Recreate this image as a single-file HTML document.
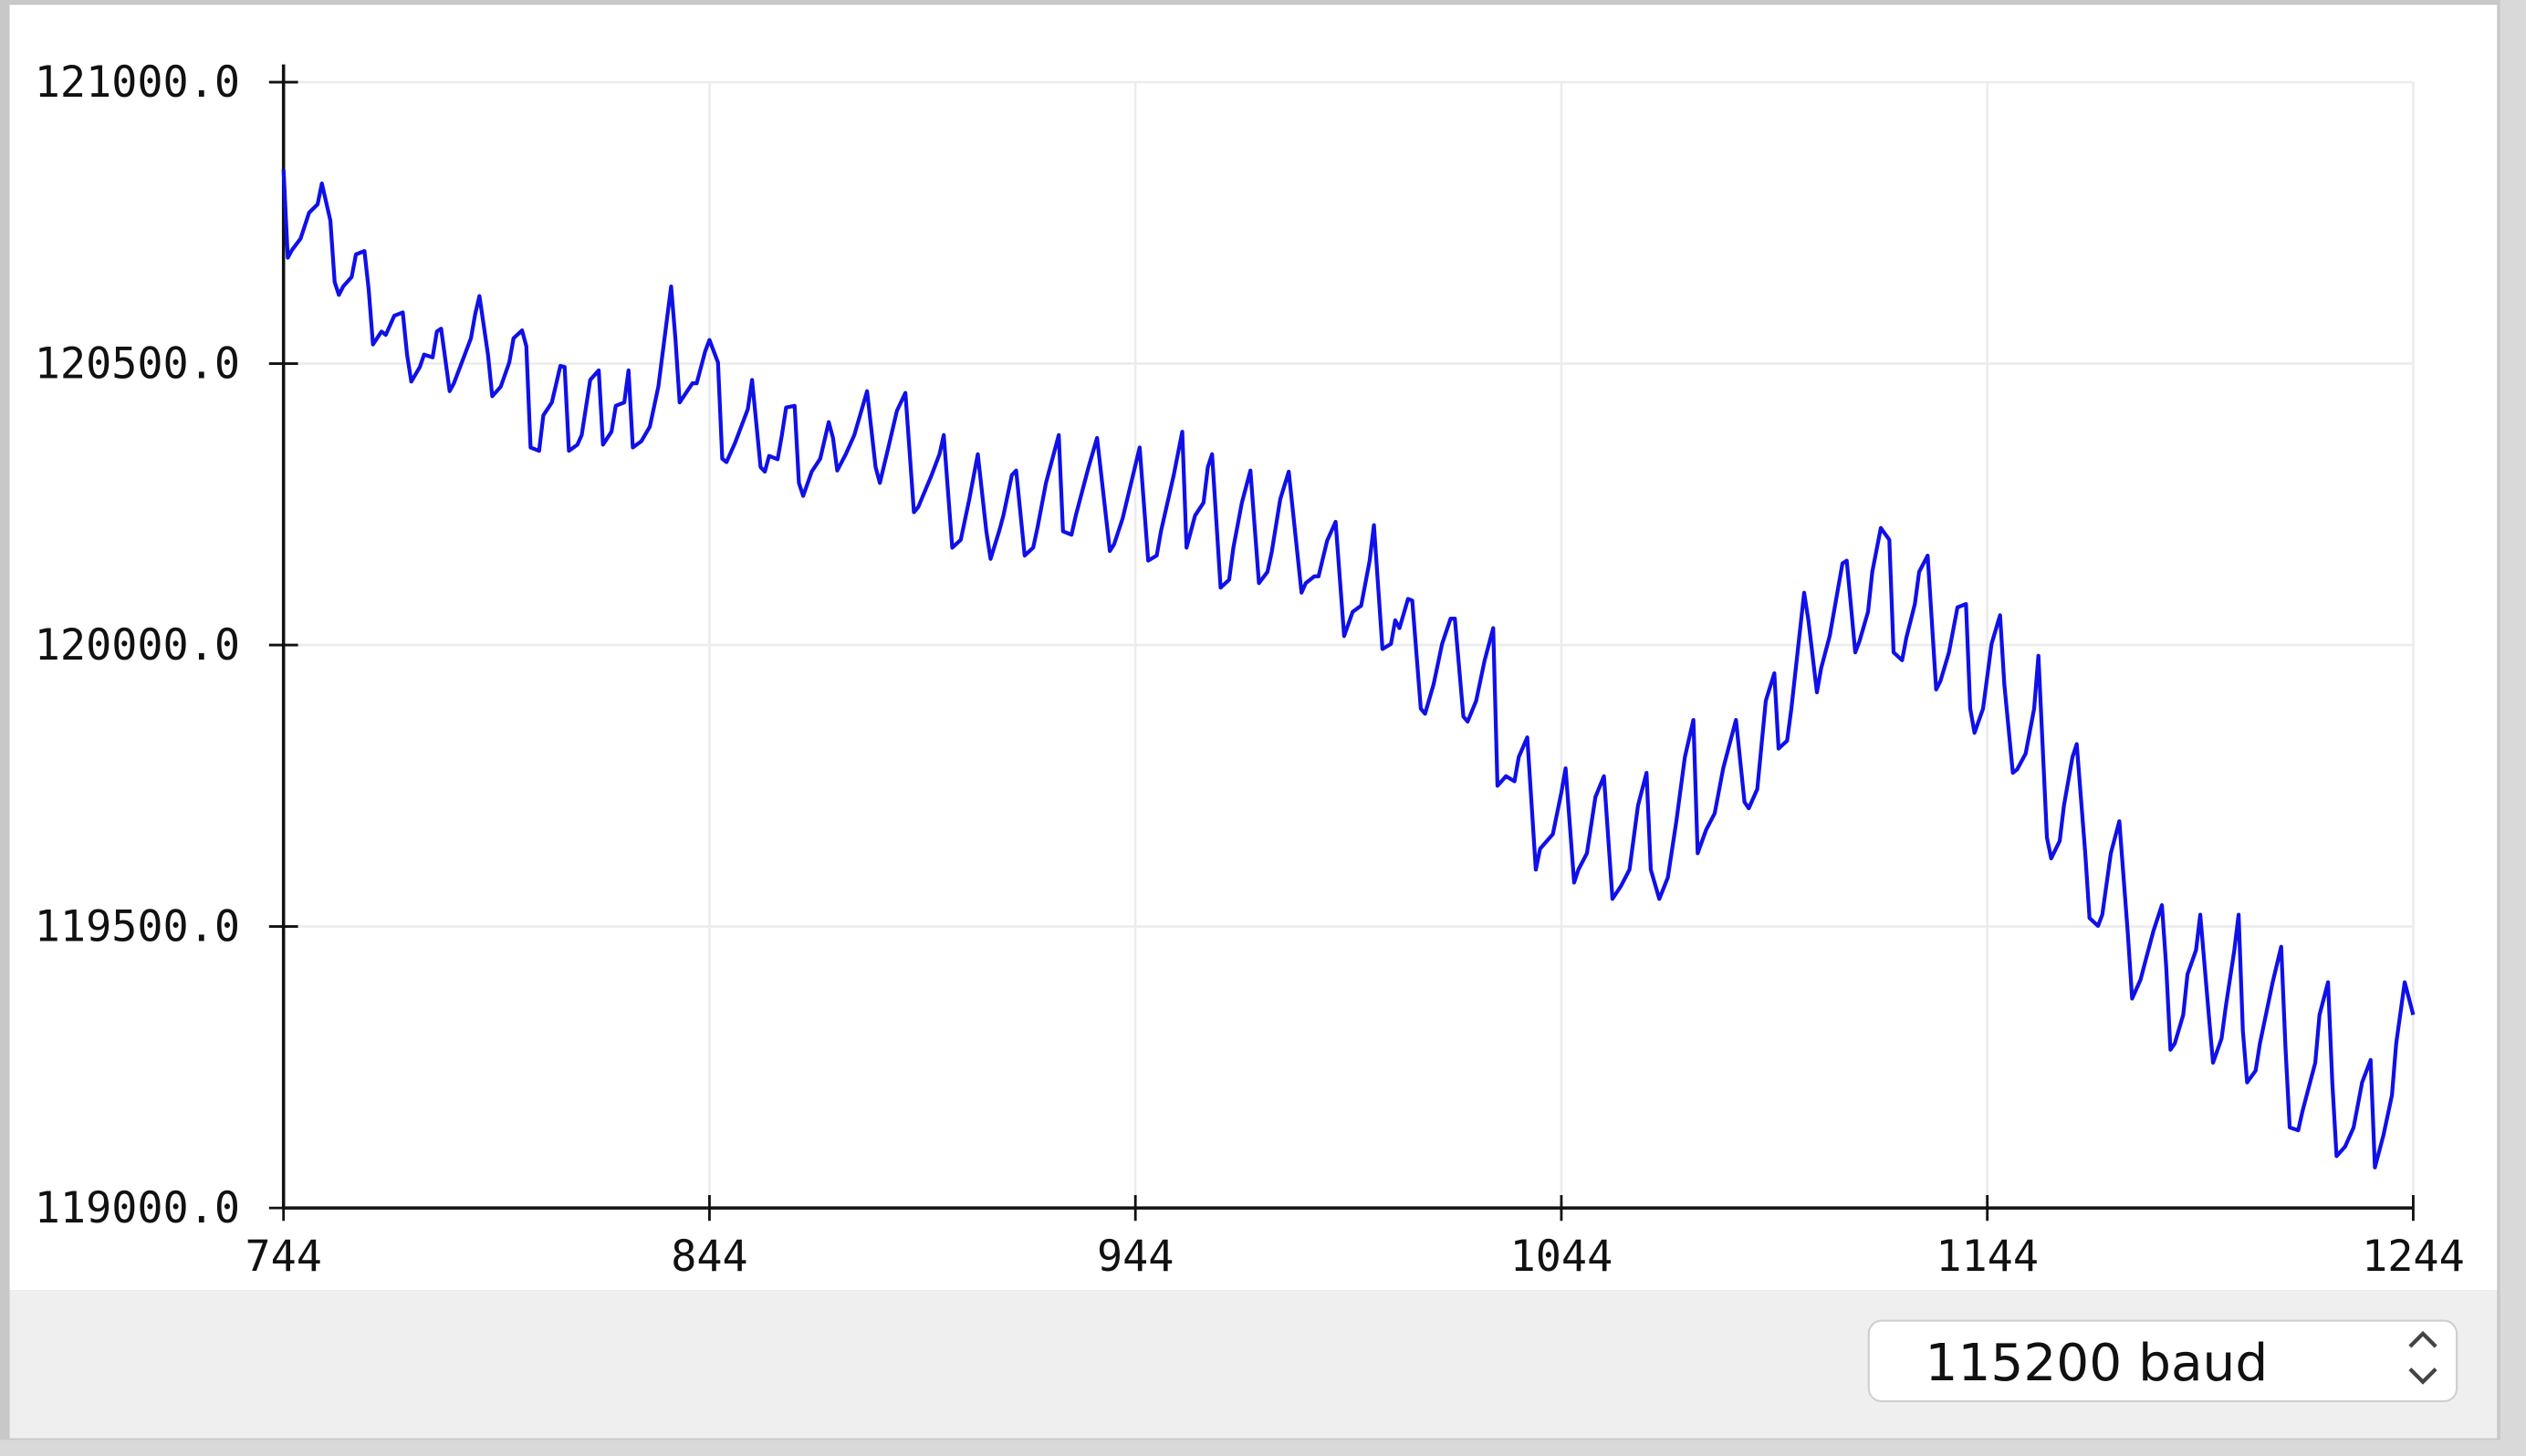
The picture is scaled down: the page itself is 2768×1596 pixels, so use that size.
<!DOCTYPE html>
<html><head><meta charset="utf-8">
<style>
html,body{margin:0;padding:0;width:2768px;height:1596px;overflow:hidden;background:#dcdcdc;}
svg{display:block}
</style></head>
<body>
<svg id="chart" width="2768" height="1596" viewBox="0 0 1568 904" preserveAspectRatio="none" xmlns="http://www.w3.org/2000/svg">
  <rect x="0" y="0" width="1568" height="904" fill="#d9d9d9"/>
  <rect x="0" y="0" width="1552" height="894" fill="#c8c8c8"/>
  <rect x="6" y="3" width="1544" height="798" fill="#ffffff"/>
  <rect x="6" y="801" width="1544" height="92" fill="#efefef"/>
  <g id="grid"></g>
  <g id="axes"></g>
  <g id="series"></g>
  <g>
    <rect x="1160" y="820" width="365" height="50" rx="8" fill="#ffffff" stroke="#cfcfcf" stroke-width="1.2"/>
    <text x="1195" y="857" font-family="'DejaVu Sans', sans-serif" font-size="32" fill="#111">115200 baud</text>
    <path d="M1496 836 L1504 828 L1512 836 M1496 850 L1504 858 L1512 850" fill="none" stroke="#444" stroke-width="2.4"/>
  </g>
</svg>
<script>
const xTicks = [744, 844, 944, 1044, 1144, 1244];
const yTicks = [119000, 119500, 120000, 120500, 121000];
const yTickLabels = ["119000.0", "119500.0", "120000.0", "120500.0", "121000.0"];
const sampleIndex = [744,745,746,748,750,752,753,755,756,757,758,760,761,763,764,765,767,768,770,772,773,774,776,777,779,780,781,783,784,786,788,789,790,792,793,795,797,798,800,801,802,804,805,807,809,810,811,813,814,816,818,819,821,822,824,825,826,828,830,832,835,836,837,840,841,843,844,846,847,848,850,851,853,854,856,857,858,860,861,862,864,865,866,868,870,872,873,874,876,878,881,883,884,886,888,890,892,893,896,898,899,901,903,905,907,909,910,912,913,915,916,918,920,921,923,926,927,929,930,933,935,938,939,941,943,945,947,949,950,953,955,956,958,960,961,962,964,966,967,969,971,973,975,976,978,980,983,984,986,987,989,991,993,995,997,999,1000,1002,1004,1005,1006,1008,1009,1011,1012,1014,1016,1018,1019,1021,1022,1024,1026,1028,1029,1031,1033,1034,1036,1038,1039,1042,1044,1045,1047,1048,1050,1052,1054,1056,1058,1060,1062,1064,1065,1067,1069,1071,1073,1075,1076,1078,1080,1082,1085,1087,1088,1090,1092,1094,1095,1097,1098,1101,1102,1104,1105,1107,1110,1111,1113,1114,1116,1117,1119,1121,1122,1124,1125,1127,1128,1130,1132,1133,1135,1137,1139,1140,1141,1143,1145,1147,1148,1150,1151,1153,1155,1156,1158,1159,1161,1162,1164,1165,1167,1168,1170,1171,1173,1175,1177,1178,1180,1181,1183,1185,1186,1187,1188,1190,1191,1193,1194,1196,1197,1199,1200,1202,1203,1204,1205,1207,1208,1211,1213,1214,1215,1217,1218,1221,1222,1224,1225,1226,1228,1230,1232,1234,1235,1237,1239,1240,1242,1244];
const sampleValue = [120845,120688,120702,120722,120768,120783,120820,120754,120645,120622,120637,120654,120694,120700,120631,120534,120557,120551,120585,120591,120516,120468,120494,120516,120511,120557,120562,120451,120465,120505,120545,120588,120620,120516,120442,120459,120502,120545,120559,120531,120351,120345,120408,120431,120496,120494,120345,120356,120373,120471,120488,120356,120379,120425,120431,120488,120351,120362,120388,120459,120637,120545,120431,120465,120465,120522,120542,120502,120331,120325,120359,120379,120419,120471,120316,120308,120336,120330,120373,120422,120425,120288,120265,120308,120331,120396,120368,120310,120339,120373,120451,120316,120288,120351,120416,120448,120236,120245,120299,120339,120373,120173,120187,120259,120339,120202,120153,120202,120230,120302,120310,120159,120173,120208,120288,120373,120202,120196,120230,120316,120368,120167,120179,120225,120288,120351,120150,120159,120202,120302,120379,120173,120230,120253,120316,120339,120102,120116,120173,120253,120310,120110,120130,120165,120259,120308,120093,120110,120122,120122,120185,120219,120016,120059,120070,120150,120213,119993,120002,120044,120030,120082,120079,119887,119878,119930,120002,120047,120047,119873,119864,119901,119973,120030,119750,119767,119758,119801,119836,119601,119638,119664,119738,119781,119578,119601,119630,119730,119767,119549,119572,119601,119715,119773,119601,119549,119587,119687,119801,119867,119630,119672,119701,119781,119867,119721,119710,119744,119901,119950,119816,119830,119887,120093,120044,119916,119959,120016,120145,120150,119987,120007,120059,120130,120208,120187,119987,119973,120013,120073,120130,120159,119921,119936,119987,120067,120073,119887,119844,119887,120002,120053,119930,119773,119779,119807,119887,119981,119658,119621,119652,119715,119801,119824,119630,119515,119501,119521,119630,119687,119487,119372,119406,119435,119492,119538,119429,119281,119292,119343,119415,119458,119521,119343,119258,119301,119358,119458,119521,119315,119223,119244,119292,119401,119464,119286,119143,119138,119172,119258,119343,119401,119223,119092,119109,119143,119223,119263,119072,119129,119200,119292,119401,119343];

const NS = "http://www.w3.org/2000/svg";
const X0 = 176, X1 = 1498, Y0 = 750, Y1 = 51;
function xScale(v){ return X0 + (v - 744) / (1244 - 744) * (X1 - X0); }
function yScale(v){ return Y0 - (v - 119000) / (121000 - 119000) * (Y0 - Y1); }
function mk(tag, attrs, parent){ const e = document.createElementNS(NS, tag); for (const k in attrs) e.setAttribute(k, attrs[k]); parent.appendChild(e); return e; }

const grid = document.getElementById('grid');
const axes = document.getElementById('axes');
const series = document.getElementById('series');
const MONO = "'DejaVu Sans Mono','Liberation Mono',monospace";

xTicks.forEach((t, i) => {
  const x = xScale(t);
  if (i > 0) {
    const g = mk('line', {x1:x, y1:Y1, x2:x, y2:Y0, stroke:'#ececec', 'stroke-width':1.5}, grid);
    
    
  }
  const tk = mk('line', {x1:x, y1:Y0 - 8, x2:x, y2:Y0 + 8, stroke:'#111', 'stroke-width':1.6}, axes);
  
  
  const lb = mk('text', {x:x, y:789, 'text-anchor':'middle', 'font-family':MONO, 'font-size':26.5, fill:'#111'}, axes);
  lb.textContent = String(t);
  
  
});
yTicks.forEach((t, i) => {
  const y = yScale(t);
  if (i > 0) {
    const g = mk('line', {x1:X0, y1:y, x2:X1, y2:y, stroke:'#ececec', 'stroke-width':1.5}, grid);
    
    
  }
  const tk = mk('line', {x1:X0 - 9, y1:y, x2:X0 + 9, y2:y, stroke:'#111', 'stroke-width':1.6}, axes);
  
  
  const lb = mk('text', {x:149, y:y + 9, 'text-anchor':'end', 'font-family':MONO, 'font-size':26.5, fill:'#111'}, axes);
  lb.textContent = yTickLabels[i];
  
  
});
const ya = mk('line', {x1:X0, y1:40, x2:X0, y2:Y0, stroke:'#111', 'stroke-width':2}, axes);


const xa = mk('line', {x1:X0, y1:Y0, x2:X1, y2:Y0, stroke:'#111', 'stroke-width':2}, axes);



const pts = sampleIndex.map((s, i) => xScale(s).toFixed(2) + ',' + yScale(sampleValue[i]).toFixed(2)).join(' ');
const line = mk('polyline', {points:pts, fill:'none', stroke:'#1010e8', 'stroke-width':2.4, 'stroke-linejoin':'round'}, series);


</script>
</body></html>
